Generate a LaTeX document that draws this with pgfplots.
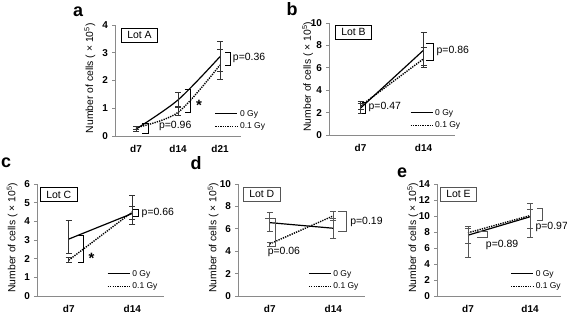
\documentclass[border=0pt]{standalone}
\usepackage{fontspec}
\setmainfont{Liberation Sans}
\usepackage{pgfplots}
\pgfplotsset{compat=1.18}
\usepackage{pgfplotstable}

\definecolor{axgray}{HTML}{8A8A8A}
\definecolor{ebdark}{HTML}{333333}
\definecolor{ebgray}{HTML}{555555}

\tikzset{
  brk/.style={line width=0.7pt},
  ptxt/.style={font=\fontsize{10.5}{11}\selectfont, anchor=west, inner sep=1pt},
  lotbox/.style={draw, line width=0.6pt, font=\fontsize{10.5}{11}\selectfont, inner xsep=6pt, inner ysep=3.5pt, anchor=north west, fill=white},
  star/.style={font=\fontsize{15}{15}\selectfont\bfseries},
  plet/.style={font=\fontsize{18}{18}\selectfont\bfseries},
}
\pgfplotsset{
  legend image code/.code={\draw[#1] (0bp,0bp) -- (22bp,0bp);},
  panel/.style={
    scale only axis, clip=false,
    axis lines*=left,
    axis line style={axgray, line width=0.7pt},
    every tick/.style={axgray, line width=0.7pt},
    tick align=outside, major tick length=3bp, minor tick length=3bp,
    ymin=0, xmin=-0.5,
    xtick={0,1,2}, xticklabels={d7,d14,d21},
    xtick style={draw=none},
    tick label style={font=\fontsize{10}{11}\selectfont\bfseries},
    /pgf/number format/assume math mode=true,
    xticklabel style={inner ysep=0.5bp, yshift=-5.5bp},
    yticklabel style={xshift=-0.5bp},
    ylabel={Number of cells ( × 10\textsuperscript{5})},
    ylabel style={font=\fontsize{10.4}{11}\selectfont, at={(axis description cs:-0.195,0.52)}, anchor=center},
    legend style={draw=none, fill=none, font=\fontsize{8.5}{9}\selectfont,
      anchor=south west, row sep=1.5pt, inner sep=0pt, cells={anchor=west}},
    legend cell align=left,
  },
  zero/.style={black, line width=1.2pt, solid},
  one/.style={black, line width=1.4pt, dash pattern=on 1.3pt off 1.1pt},
  ebars/.style={error bars/.cd, y dir=both, y explicit,
    error bar style={solid, line width=0.6pt, #1},
    error mark options={rotate=90, mark size=3bp, solid, line width=0.6pt, #1}},
}

% Panel a
\pgfplotstableread{
x y ep em
0 0.25 0.09 0.09
1 1.30 0.27 0.22
2 2.86 0.54 0.54
}\aZero
\pgfplotstableread{
x y ep em
0 0.30 0.05 0.05
1 0.85 0.20 0.10
2 2.56 0.56 0.52
}\aOne
% Panel b
\pgfplotstableread{
x y ep em
0 2.40 0.65 0.50
1 7.57 1.63 1.55
}\bZero
\pgfplotstableread{
x y ep em
0 2.60 0.20 0.30
1 6.80 1.06 0.60
}\bOne
% Panel c
\pgfplotstableread{
x y ep em
0 3.05 1.00 0.77
1 4.42 0.95 0.30
}\cZero
\pgfplotstableread{
x y ep em
0 1.92 0.13 0.14
1 4.50 0.30 0.67
}\cOne
% Panel d
\pgfplotstableread{
x y ep em
0 6.55 0.95 0.75
1 6.05 0.85 0.86
}\dZero
\pgfplotstableread{
x y ep em
0 4.65 0.15 0.20
1 7.15 0.42 0.40
}\dOne
% Panel e
\pgfplotstableread{
x y ep em
0 7.60 1.10 2.70
1 9.90 1.73 2.50
}\eZero
\pgfplotstableread{
x y ep em
0 7.90 0.55 1.25
1 10.05 0.85 1.60
}\eOne

\begin{document}
\begin{tikzpicture}
\useasboundingbox (0,0) rectangle (567bp,314bp);

% ---------------- a ----------------
\begin{axis}[panel, at={(115bp,178bp)}, anchor=south west, width=126bp, height=111bp,
  xmax=2.5, ymax=4, ytick={0,1,2,3,4}, minor xtick={-0.5,0.5,1.5,2.5},
  ylabel style={at={(axis description cs:-0.2,0.52)}},
  legend style={at={(rel axis cs:0.79,0.03)}}]
\addplot[zero, smooth, ebars={ebdark}] table[x=x,y=y,y error plus=ep,y error minus=em]{\aZero};
\addlegendentry{0 Gy}
\addplot[one, smooth, ebars={ebdark}] table[x=x,y=y,y error plus=ep,y error minus=em]{\aOne};
\addlegendentry{0.1 Gy}
\draw[brk] (axis cs:2.12,3.0) -- (axis cs:2.24,3.0) -- (axis cs:2.24,2.56) -- (axis cs:2.12,2.56);
\node[ptxt] at (axis cs:2.28,2.82) {p=0.36};
\draw[brk] (axis cs:1.16,1.68) -- (axis cs:1.3,1.68) -- (axis cs:1.3,0.84) -- (axis cs:1.16,0.84);
\node[star] at (axis cs:1.5,1.1) {*};
\draw[brk] (axis cs:0.14,0.46) -- (axis cs:0.3,0.46) -- (axis cs:0.3,0.1) -- (axis cs:0.14,0.1);
\node[ptxt] at (axis cs:0.52,0.36) {p=0.96};
\node[lotbox] at (rel axis cs:0,1) [xshift=6bp,yshift=-3bp] {Lot A};
\end{axis}

% ---------------- b ----------------
\begin{axis}[panel, at={(329bp,179bp)}, anchor=south west, width=126bp, height=112bp,
  xmax=1.5, ymax=10, ytick={0,2,4,6,8,10}, minor xtick={-0.5,0.5,1.5},
  ylabel style={at={(axis description cs:-0.17,0.52)}},
  legend style={at={(rel axis cs:0.64,0.03)}}]
\addplot[zero, ebars={ebdark}] table[x=x,y=y,y error plus=ep,y error minus=em]{\bZero};
\addlegendentry{0 Gy}
\addplot[one, ebars={ebdark}] table[x=x,y=y,y error plus=ep,y error minus=em]{\bOne};
\addlegendentry{0.1 Gy}
\draw[brk] (axis cs:1.04,8.2) -- (axis cs:1.15,8.2) -- (axis cs:1.15,6.65) -- (axis cs:1.04,6.65);
\node[ptxt] at (axis cs:1.19,7.55) {p=0.86};
\draw[brk] (axis cs:0.02,2.9) -- (axis cs:0.08,2.9) -- (axis cs:0.08,1.95) -- (axis cs:0.02,1.95);
\node[ptxt] at (axis cs:0.11,2.5) {p=0.47};
\node[lotbox] at (rel axis cs:0,1) [xshift=6bp,yshift=-2bp] {Lot B};
\end{axis}

% ---------------- c ----------------
\begin{axis}[panel, at={(37bp,18bp)}, anchor=south west, width=127bp, height=112bp,
  xmax=1.5, ymax=6, ytick={0,1,2,3,4,5,6}, minor xtick={-0.5,0.5,1.5},
  legend style={at={(rel axis cs:0.55,0.03)}}]
\addplot[zero, ebars={ebdark}] table[x=x,y=y,y error plus=ep,y error minus=em]{\cZero};
\addlegendentry{0 Gy}
\addplot[one, ebars={ebdark}] table[x=x,y=y,y error plus=ep,y error minus=em]{\cOne};
\addlegendentry{0.1 Gy}
\draw[brk] (axis cs:1.01,4.63) -- (axis cs:1.09,4.63) -- (axis cs:1.09,4.27) -- (axis cs:1.01,4.27);
\node[ptxt] at (axis cs:1.13,4.46) {p=0.66};
\draw[brk] (axis cs:0.14,3.25) -- (axis cs:0.23,3.25) -- (axis cs:0.23,1.8) -- (axis cs:0.14,1.8);
\node[star] at (axis cs:0.36,2.0) {*};
\node[lotbox] at (rel axis cs:0,1) [xshift=3bp,yshift=-3bp] {Lot C};
\end{axis}

% ---------------- d ----------------
\begin{axis}[panel, at={(238bp,18bp)}, anchor=south west, width=127bp, height=112bp,
  xmax=1.5, ymax=10, ytick={0,2,4,6,8,10}, minor xtick={-0.5,0.5,1.5},
  legend style={at={(rel axis cs:0.55,0.03)}}]
\addplot[zero, ebars={ebgray}] table[x=x,y=y,y error plus=ep,y error minus=em]{\dZero};
\addlegendentry{0 Gy}
\addplot[one, ebars={ebgray}] table[x=x,y=y,y error plus=ep,y error minus=em]{\dOne};
\addlegendentry{0.1 Gy}
\draw[brk, ebgray] (axis cs:1.07,7.55) -- (axis cs:1.2,7.55) -- (axis cs:1.2,5.78) -- (axis cs:1.07,5.78);
\node[ptxt] at (axis cs:1.25,6.65) {p=0.19};
\draw[brk, ebgray] (axis cs:-0.07,6.97) -- (axis cs:0.09,6.97) -- (axis cs:0.09,4.45) -- (axis cs:0.02,4.45);
\node[ptxt] at (axis cs:-0.05,3.95) {p=0.06};
\node[lotbox, draw=ebgray] at (rel axis cs:0,1) [xshift=5bp,yshift=-3bp] {Lot D};
\end{axis}

% ---------------- e ----------------
\begin{axis}[panel, at={(437bp,18bp)}, anchor=south west, width=124bp, height=112bp,
  xmax=1.5, ymax=14, ytick={0,2,4,6,8,10,12,14}, minor xtick={-0.5,0.5,1.5},
  legend style={at={(rel axis cs:0.59,0.03)}}]
\addplot[zero, ebars={ebgray}] table[x=x,y=y,y error plus=ep,y error minus=em]{\eZero};
\addlegendentry{0 Gy}
\addplot[one, ebars={ebgray}] table[x=x,y=y,y error plus=ep,y error minus=em]{\eOne};
\addlegendentry{0.1 Gy}
\draw[brk, ebgray] (axis cs:1.11,10.9) -- (axis cs:1.2,10.9) -- (axis cs:1.2,9.45) -- (axis cs:1.11,9.45);
\node[ptxt] at (axis cs:1.07,8.6) {p=0.97};
\draw[brk, ebgray] (axis cs:0.14,8.1) -- (axis cs:0.32,8.1) -- (axis cs:0.32,7.3) -- (axis cs:0.14,7.3);
\node[ptxt] at (axis cs:0.27,6.4) {p=0.89};
\node[lotbox, draw=ebgray] at (rel axis cs:0,1) [xshift=3bp,yshift=-3bp] {Lot E};
\end{axis}

% panel letters
\node[plet] at (78bp,302bp) {a};
\node[plet] at (292bp,305bp) {b};
\node[plet] at (6bp,151bp) {c};
\node[plet] at (196bp,151bp) {d};
\node[plet] at (402bp,141bp) {e};
\end{tikzpicture}
\end{document}
